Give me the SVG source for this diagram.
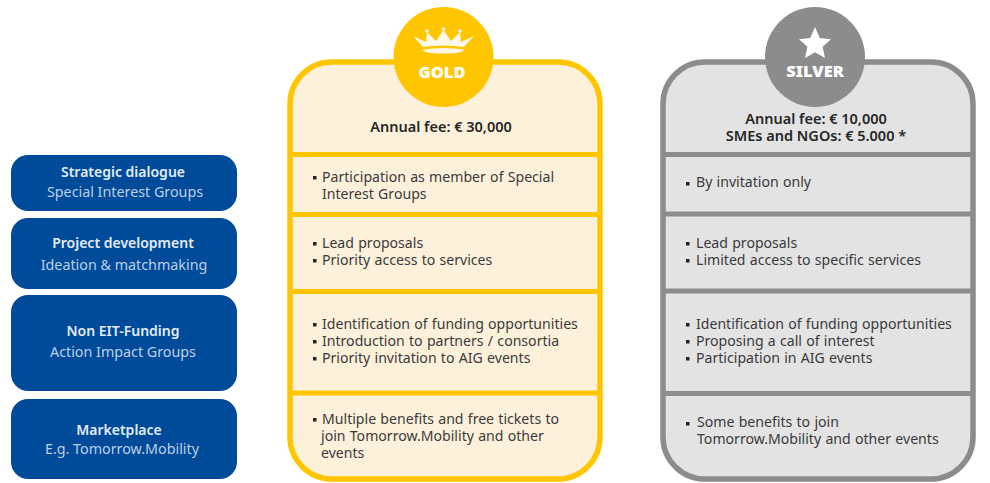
<svg xmlns="http://www.w3.org/2000/svg" width="990" height="483" viewBox="0 0 990 483">
<style>
text{font-family:"Noto Sans","Open Sans","Liberation Sans",sans-serif}
.blue{fill:#004A9A}
.h{font-size:14px;font-weight:600;fill:#e4ecf6;text-anchor:middle}
.s{font-size:14.300px;fill:#bcd0e8;text-anchor:middle}
.t{font-size:14.100px;word-spacing:.6px;fill:#3a3a3a}
.f{font-size:14.500px;font-weight:600;fill:#262626;text-anchor:middle}
.b{font-size:16.500px;font-weight:900;fill:#fff;text-anchor:middle}
.gold{fill:#FDF1DB;stroke:#FFC600;stroke-width:5.500}
.gl{stroke:#FFC600;stroke-width:5}
.silver{fill:#E3E3E3;stroke:#8C8C8C;stroke-width:5.500}
.sl{stroke:#8C8C8C;stroke-width:5}
.d{fill:#222}
</style>
<rect width="990" height="483" fill="#fff"/>
<g id="row-strategic"><rect class="blue" x="11" y="155" width="226" height="56" rx="17"/><text class="h" x="123" y="177">Strategic dialogue</text><text class="s" x="125" y="197">Special Interest Groups</text></g>
<g id="row-project"><rect class="blue" x="11" y="218" width="226" height="71" rx="17"/><text class="h" x="123" y="248">Project development</text><text class="s" x="124" y="270">Ideation &amp; matchmaking</text></g>
<g id="row-funding"><rect class="blue" x="11" y="295" width="226" height="96" rx="17"/><text class="h" x="123" y="336">Non EIT-Funding</text><text class="s" x="123" y="357">Action Impact Groups</text></g>
<g id="row-market"><rect class="blue" x="11" y="399" width="226" height="80" rx="17"/><text class="h" x="119" y="435">Marketplace</text><text class="s" x="122" y="454">E.g. Tomorrow.Mobility</text></g>
<g id="gold-card">
<rect class="gold" x="290" y="62" width="310" height="417" rx="42"/>
<line class="gl" x1="290" x2="600" y1="154.500" y2="154.500"/><line class="gl" x1="290" x2="600" y1="214.500" y2="214.500"/><line class="gl" x1="290" x2="600" y1="291.500" y2="291.500"/><line class="gl" x1="290" x2="600" y1="393" y2="393"/>
<circle cx="443.500" cy="57" r="50" fill="#FFC600"/>
<path fill="#FFF8E8" d="M413 36L426 42 427 32 436 41 443.500 30 451 41 460 32 461 42 474 36 464 47Q443.500 44 423 47zM423 49.500Q443.500 46.500 464 49.500Q464 53.500 443.500 53.500Q423 53.500 423 49.500z"/>
<circle cx="427" cy="31" r="1.800" fill="#FFF8E8"/><circle cx="443.500" cy="29" r="1.800" fill="#FFF8E8"/><circle cx="460" cy="31" r="1.800" fill="#FFF8E8"/>
<text class="b" x="442" y="78">GOLD</text>
<text class="f" x="441" y="132">Annual fee: € 30,000</text>
<rect class="d" x="313" y="176" width="3.500" height="3.500"/><text class="t"><tspan x="322" y="182">Participation as member of Special</tspan><tspan x="322" y="199">Interest Groups</tspan></text>
<rect class="d" x="313" y="242" width="3.500" height="3.500"/><rect class="d" x="313" y="259" width="3.500" height="3.500"/><text class="t"><tspan x="322" y="248">Lead proposals</tspan><tspan x="322" y="265">Priority access to services</tspan></text>
<rect class="d" x="313" y="323" width="3.500" height="3.500"/><rect class="d" x="313" y="340" width="3.500" height="3.500"/><rect class="d" x="313" y="357" width="3.500" height="3.500"/><text class="t"><tspan x="322" y="329">Identification of funding opportunities</tspan><tspan x="322" y="346">Introduction to partners / consortia</tspan><tspan x="322" y="363">Priority invitation to AIG events</tspan></text>
<rect class="d" x="313" y="418" width="3.500" height="3.500"/><text class="t"><tspan x="322" y="424">Multiple benefits and free tickets to</tspan><tspan x="321" y="441">join Tomorrow.Mobility and other</tspan><tspan x="321" y="458">events</tspan></text>
</g>
<g id="silver-card">
<rect class="silver" x="663" y="62" width="310" height="417" rx="42"/>
<line class="sl" x1="663" x2="973" y1="154.500" y2="154.500"/><line class="sl" x1="663" x2="973" y1="214" y2="214"/><line class="sl" x1="663" x2="973" y1="291" y2="291"/><line class="sl" x1="663" x2="973" y1="393.500" y2="393.500"/>
<circle cx="815" cy="57" r="50" fill="#8C8C8C"/>
<path fill="#fff" d="M815 27l4.800 11 11.200 1.200-8.400 7.600 2.400 11.200-10-5.800-10 5.800 2.400-11.200-8.400-7.600 11.200-1.200z"/>
<text class="b" x="815" y="77">SILVER</text>
<text class="f"><tspan x="816" y="124">Annual fee: € 10,000</tspan><tspan x="816" y="141">SMEs and NGOs: € 5.000 *</tspan></text>
<rect class="d" x="686" y="182" width="3.500" height="3.500"/><text class="t" x="696" y="187">By invitation only</text>
<rect class="d" x="686" y="242" width="3.500" height="3.500"/><rect class="d" x="686" y="259" width="3.500" height="3.500"/><text class="t"><tspan x="696" y="248">Lead proposals</tspan><tspan x="696" y="265">Limited access to specific services</tspan></text>
<rect class="d" x="686" y="323" width="3.500" height="3.500"/><rect class="d" x="686" y="340" width="3.500" height="3.500"/><rect class="d" x="686" y="357" width="3.500" height="3.500"/><text class="t"><tspan x="696" y="329">Identification of funding opportunities</tspan><tspan x="696" y="346">Proposing a call of interest</tspan><tspan x="696" y="363">Participation in AIG events</tspan></text>
<rect class="d" x="686" y="422" width="3.500" height="3.500"/><text class="t"><tspan x="697" y="427">Some benefits to join</tspan><tspan x="697" y="444">Tomorrow.Mobility and other events</tspan></text>
</g>
<g id="connectors"/>
</svg>
